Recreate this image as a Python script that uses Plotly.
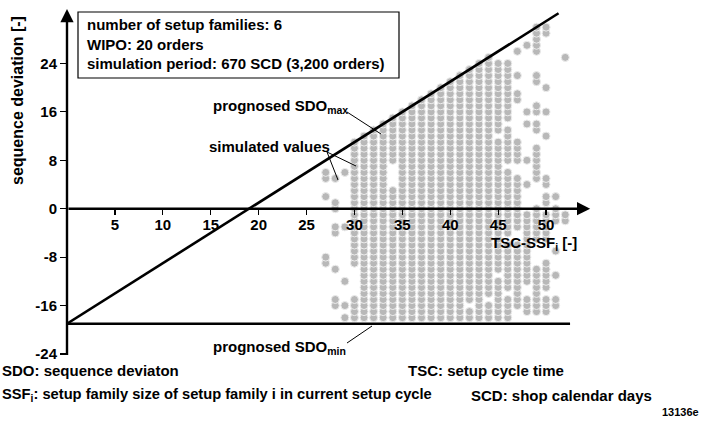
import plotly.graph_objects as go

# ---------------- data ----------------
y_tick_vals = [-24, -16, -8, 0, 8, 16, 24]
y_tick_text = ["-24", "-16", "-8", "0", "8", "16", "24"]
x_tick_vals = [5, 10, 15, 20, 25, 30, 35, 40, 45, 50]
x_tick_text = ["5", "10", "15", "20", "25", "30", "35", "40", "45", "50"]

sdo_max_x = [0, 51.3]
sdo_max_y = [-19, 32.3]
sdo_min_x = [0, 52.5]
sdo_min_y = [-19, -19]

# simulated values: x column (TSC-SSF_i) and the y ranges [lo, hi] of occupied sequence deviations
column_x = [27, 28, 29, 30, 31, 32, 33, 34, 35, 36, 37, 38, 39, 40, 41, 42, 43,
            44, 45, 46, 47, 48, 49, 50, 51, 52]
column_segments = [
    [[5, 6], [2, 2], [-9, -8]],
    [[5, 5], [0, 1], [-4, -3], [-10, -10], [-16, -15]],
    [[6, 6], [-3, -3], [-12, -12], [-16, -16], [-18, -18]],
    [[-9, 11], [-18, -15]],
    [[-18, 12]],
    [[-18, 13]],
    [[-18, 14]],
    [[-18, 3], [8, 15]],
    [[-18, 16]],
    [[-18, 17]],
    [[-18, 18]],
    [[-18, 19]],
    [[-18, 20]],
    [[-18, 21]],
    [[-18, 22]],
    [[-18, -17], [-15, 23]],
    [[-18, 24]],
    [[-18, -16], [-14, 25]],
    [[-18, -12], [-10, 11], [13, 24]],
    [[-18, -15], [-13, -6], [-4, 6], [8, 13], [15, 24]],
    [[-16, -6], [-3, 5], [8, 11], [18, 19], [22, 22], [26, 26]],
    [[-17, -15], [-12, -1], [4, 4], [8, 8], [14, 14], [16, 16], [27, 27]],
    [[-17, -10], [-5, 0], [5, 10], [13, 14], [16, 17], [21, 22], [26, 30]],
    [[-17, -15], [-13, -9], [-5, -1], [1, 2], [4, 5], [12, 12], [16, 16], [20, 20], [29, 30]],
    [[-16, -15], [-11, -11], [-7, -7], [-2, 0], [2, 2]],
    [[-2, -1], [25, 25]],
]

box_lines = ["number of setup families: 6", "WIPO: 20 orders",
             "simulation period: 670 SCD (3,200 orders)"]

# ---------------- geometry helpers ----------------
W, H = 702, 421
ML, MR, MT, MB = 67, 108, 9, 64
XR = [0, 55]
YR = [-24.5, 33]
pw = W - ML - MR
ph = H - MT - MB


def px2p(px):
    return (px - ML) / pw


def py2p(py):
    return 1 - (py - MT) / ph


sim_x, sim_y = [], []
for cx, segs in zip(column_x, column_segments):
    for lo, hi in segs:
        for v in range(lo, hi + 1):
            sim_x.append(cx)
            sim_y.append(v)

FONT = "Liberation Sans"
FS = 15
fig = go.Figure()

fig.add_trace(go.Scatter(
    x=sim_x, y=sim_y, mode="markers",
    marker=dict(size=8, color="#b8b8b8", line=dict(color="#ededed", width=1)),
    hoverinfo="skip", showlegend=False, cliponaxis=False))

fig.add_trace(go.Scatter(x=sdo_max_x, y=sdo_max_y, mode="lines",
                         line=dict(color="black", width=2.6), showlegend=False,
                         cliponaxis=False))
fig.add_trace(go.Scatter(x=sdo_min_x, y=sdo_min_y, mode="lines",
                         line=dict(color="black", width=2.6), showlegend=False,
                         cliponaxis=False))

ann = []
# axes arrows
ann.append(dict(x=54.6, y=0, ax=0, ay=0, xref="x", yref="y", axref="x", ayref="y",
                showarrow=True, arrowhead=2, arrowsize=1.1, arrowwidth=2.4,
                arrowcolor="black", text=""))
ann.append(dict(x=0, y=YR[1], ax=0, ay=-24.4, xref="x", yref="y", axref="x", ayref="y",
                showarrow=True, arrowhead=2, arrowsize=1.1, arrowwidth=2.4,
                arrowcolor="black", text=""))


def text(px, py, s, size=FS, xanchor="left", yanchor="middle", angle=0, align="left"):
    ann.append(dict(x=px2p(px), y=py2p(py), xref="paper", yref="paper", text="<b>" + s + "</b>",
                    showarrow=False, xanchor=xanchor, yanchor=yanchor, textangle=angle,
                    align=align, font=dict(family=FONT, size=size, color="black")))


# info box
text(85, 44, "<br>".join(box_lines))

text(211, 106, "prognosed SDO<sub>max</sub>")
text(207, 146, "simulated values")
text(211, 347, "prognosed SDO<sub>min</sub>")
text(489, 243, "TSC-SSF<sub>i</sub> [-]")
text(17, 101, "sequence deviation [-]", size=16, angle=-90, xanchor="center")
text(0, 371, "SDO: sequence deviaton")
text(406, 371, "TSC: setup cycle time")
text(0, 395, "SSF<sub>i</sub>: setup family size of setup family i in current setup cycle",
     size=14.7)
text(469, 395, "SCD: shop calendar days")
text(701, 412, "13136e", size=11, xanchor="right")


def lshape(x0, y0, x1, y1):
    return dict(type="line", xref="paper", yref="paper", x0=px2p(x0), y0=py2p(y0),
                x1=px2p(x1), y1=py2p(y1), line=dict(color="black", width=1))


shapes = [
    dict(type="rect", xref="paper", yref="paper", x0=px2p(78), x1=px2p(399),
         y0=py2p(12), y1=py2p(78),
         line=dict(color="black", width=1.2), fillcolor="white", layer="above"),
    lshape(347, 112, 381, 134),
    lshape(327, 152, 338, 180),
    lshape(327, 152, 356, 166),
    lshape(347, 343, 372, 326),
]

fig.update_layout(
    width=W, height=H, margin=dict(l=ML, r=MR, t=MT, b=MB, autoexpand=False),
    paper_bgcolor="white", plot_bgcolor="white",
    showlegend=False, annotations=ann, shapes=shapes,
    xaxis=dict(range=XR, showgrid=False, zeroline=False, showline=False, automargin=False,
               anchor="free", position=(0 - YR[0]) / (YR[1] - YR[0]),
               tickvals=x_tick_vals, ticktext=["<b>%s</b>" % t for t in x_tick_text],
               ticks="outside", ticklen=5, tickwidth=1.2, tickcolor="black",
               ticklabelstandoff=-3,
               tickfont=dict(family=FONT, size=FS, color="black")),
    yaxis=dict(range=YR, showgrid=False, zeroline=False, showline=False, automargin=False,
               tickvals=y_tick_vals, ticktext=["<b>%s</b>" % t for t in y_tick_text],
               ticks="outside", ticklen=6, tickwidth=1.2, tickcolor="black",
               tickfont=dict(family=FONT, size=FS, color="black")),
)

fig.write_html("out.html", config={"displayModeBar": False, "staticPlot": True},
               post_script="document.body.style.margin='0';document.body.style.overflow='hidden';")
